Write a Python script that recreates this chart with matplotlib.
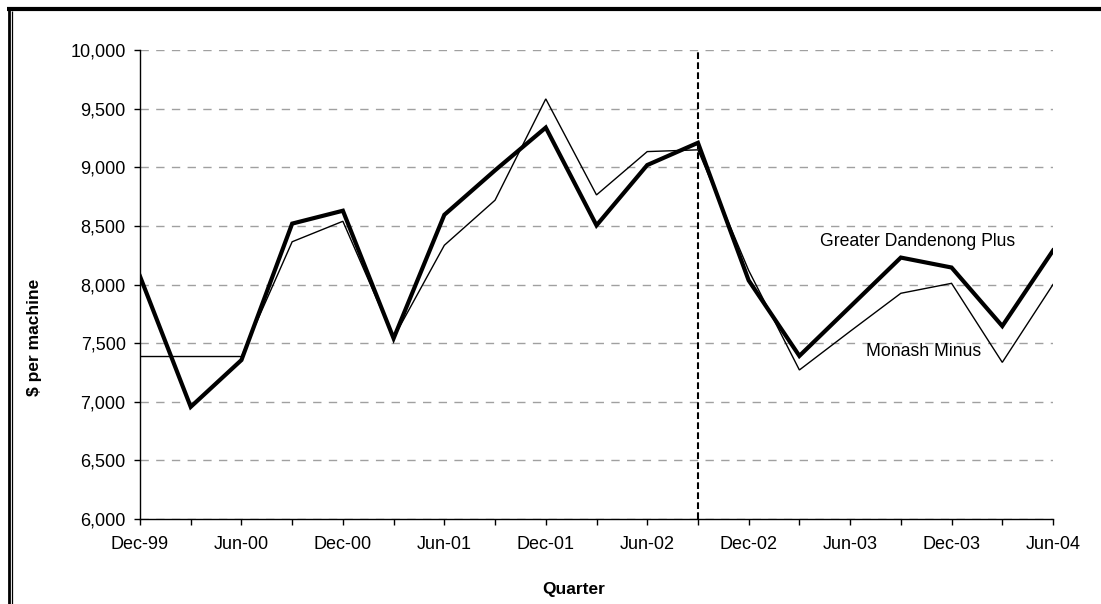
import numpy as np
import matplotlib
matplotlib.use('Agg')
import matplotlib.pyplot as plt
from matplotlib.lines import Line2D

plt.rcParams['font.family'] = ['Liberation Sans', 'DejaVu Sans']

quarters = ['Dec-99', 'Mar-00', 'Jun-00', 'Sep-00', 'Dec-00', 'Mar-01', 'Jun-01',
            'Sep-01', 'Dec-01', 'Mar-02', 'Jun-02', 'Sep-02', 'Dec-02', 'Mar-03',
            'Jun-03', 'Sep-03', 'Dec-03', 'Mar-04', 'Jun-04']

# $ per machine, quarterly
dandenong = [8070, 6955, 7355, 8520, 8630, 7540, 8595, 8975, 9340, 8505,
             9020, 9210, 8035, 7390, 7810, 8230, 8145, 7645, 8290]
monash = [7385, 7385, 7385, 8365, 8540, 7545, 8335, 8720, 9585, 8765,
          9135, 9150, 8120, 7270, 7600, 7925, 8010, 7335, 8000]

break_quarter = 'Sep-02'

x = np.arange(len(quarters))

fig = plt.figure(figsize=(11.01, 6.04), dpi=100)
ax = fig.add_axes([140 / 1101, 1 - 518.7 / 604, 913 / 1101, 468.4 / 604])

ax.plot(x, monash, color='black', lw=1.0, solid_joinstyle='miter', zorder=3)
ax.plot(x, dandenong, color='black', lw=3.0, solid_joinstyle='miter', zorder=4)
ax.axvline(quarters.index(break_quarter), color='black', lw=1.5,
           linestyle=(0, (3.2, 1.6)), zorder=5)

ax.set_xlim(0, len(quarters) - 1)
ax.set_ylim(6000, 10000)
ax.set_yticks(np.arange(6000, 10001, 500))
ax.yaxis.set_major_formatter(matplotlib.ticker.FuncFormatter(lambda v, p: f'{v:,.0f}'))
ax.set_xticks(x)
ax.set_xticklabels([q if i % 2 == 0 else '' for i, q in enumerate(quarters)])

ax.grid(axis='y', color='#a0a0a0', lw=1.0, linestyle=(0, (6, 5.3)))
ax.set_axisbelow(True)
for side in ('top', 'right'):
    ax.spines[side].set_visible(False)
for side in ('left', 'bottom'):
    ax.spines[side].set_linewidth(1.0)
ax.tick_params(axis='both', labelsize=13, length=4.3, width=1.0, direction='out')
ax.tick_params(axis='x', pad=8)
ax.tick_params(axis='y', pad=6)

ax.set_xlabel('Quarter', fontsize=12.5, fontweight='bold')
ax.set_ylabel('$ per machine', fontsize=12.5, fontweight='bold')
ax.xaxis.set_label_coords((573.5 - 140) / 913, -(581.7 - 518.7) / 468.4)
ax.yaxis.set_label_coords((42 - 140) / 913, (518.7 - 337) / 468.4)

ax.text(15.33, 8363, 'Greater Dandenong Plus', fontsize=12.7, ha='center', va='center')
ax.text(15.45, 7424, 'Monash Minus', fontsize=12.7, ha='center', va='center')

# frame: heavy top rule and a double rule down the left edge
W, H = 1101, 604
fig.add_artist(Line2D([7 / W, 1], [1 - 9 / H, 1 - 9 / H], color='black', lw=3.0,
                      solid_capstyle='butt', transform=fig.transFigure))
fig.add_artist(Line2D([8.7 / W, 8.7 / W], [0, 1 - 9 / H], color='black', lw=2.0,
                      solid_capstyle='butt', transform=fig.transFigure))
fig.add_artist(Line2D([11.8 / W, 11.8 / W], [0, 1 - 11 / H], color='black', lw=0.9,
                      solid_capstyle='butt', transform=fig.transFigure))

fig.savefig('out.png', dpi=100)
